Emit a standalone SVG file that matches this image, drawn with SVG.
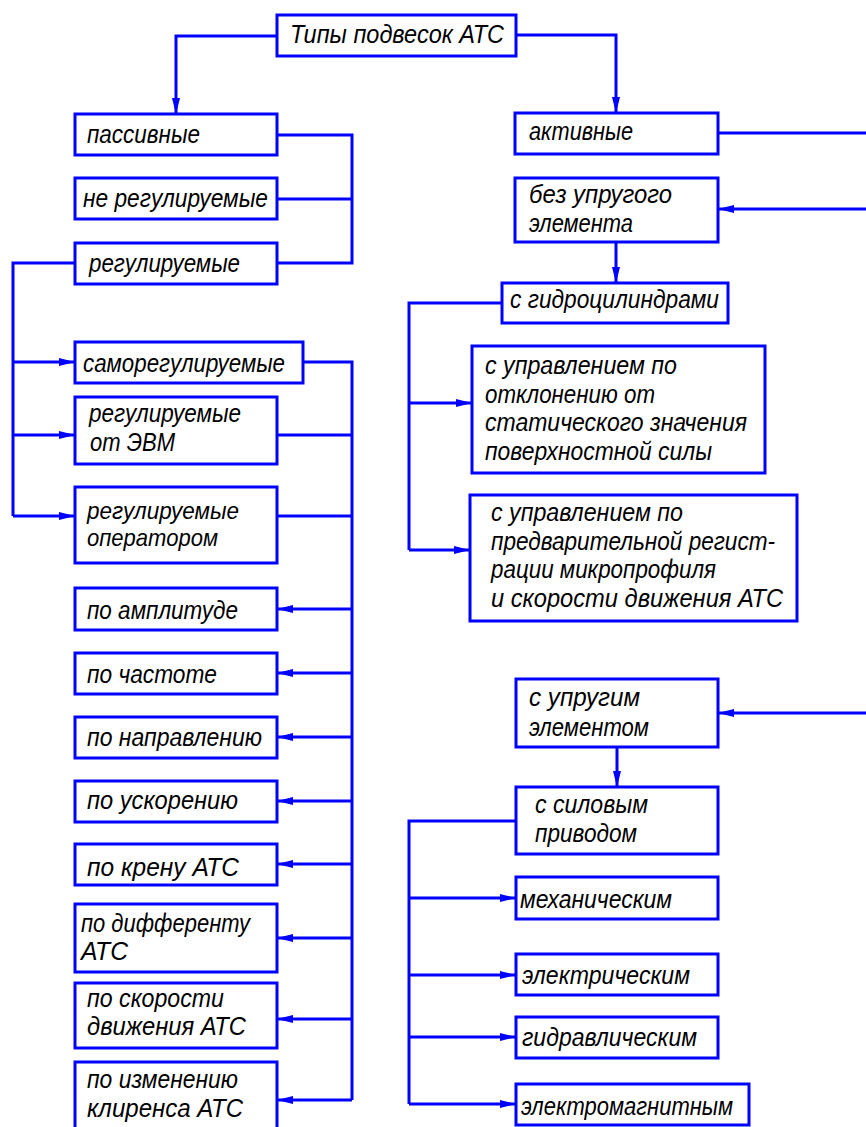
<svg xmlns="http://www.w3.org/2000/svg" width="866" height="1127" viewBox="0 0 866 1127">
<defs>
<style>
.b{fill:#fff;stroke:#0000ff;stroke-width:3}
.c{fill:none;stroke:#0000ff;stroke-width:3}
.a{fill:none;stroke:#0000ff;stroke-width:3;marker-end:url(#ah)}
text{font-family:"Liberation Sans",Arial,sans-serif;font-style:italic;font-size:26px;fill:#000}
.s{font-size:24px}
</style>
<marker id="ah" markerUnits="userSpaceOnUse" markerWidth="17" markerHeight="9" refX="16" refY="4.5" orient="auto">
<path d="M0,0.5 L16,4.5 L0,8.5 z" fill="#0000ff"/>
</marker>
</defs>
<rect width="866" height="1127" fill="#fff"/>
<g id="connectors">
<path class="a" d="M277,36 H176 V114"/>
<path class="a" d="M516,35 H616 V113"/>
<path class="c" d="M277,135 H352 V263 H277 M277,199 H352"/>
<path class="c" d="M75,263 H13 V516"/>
<path class="a" d="M13,362 H75"/>
<path class="a" d="M13,435 H75"/>
<path class="a" d="M13,516 H75"/>
<path class="c" d="M303,362 H352 V1100 M277,435 H352 M277,516 H352"/>
<path class="a" d="M352,609 H277"/>
<path class="a" d="M352,673 H277"/>
<path class="a" d="M352,737 H277"/>
<path class="a" d="M352,801 H277"/>
<path class="a" d="M352,864 H277"/>
<path class="a" d="M352,938 H277"/>
<path class="a" d="M352,1019 H277"/>
<path class="a" d="M352,1100 H277"/>
<path class="c" d="M718,133 H866"/>
<path class="a" d="M866,209 H718"/>
<path class="a" d="M616,242 V283"/>
<path class="c" d="M502,303 H409 V550"/>
<path class="a" d="M409,403 H472"/>
<path class="a" d="M409,550 H470"/>
<path class="a" d="M866,713 H718"/>
<path class="a" d="M617,747 V787"/>
<path class="c" d="M516,821 H409 V1104"/>
<path class="a" d="M409,898 H516"/>
<path class="a" d="M409,975 H516"/>
<path class="a" d="M409,1037 H516"/>
<path class="a" d="M409,1104 H516"/>
</g>
<g id="n-root"><rect class="b" x="277" y="15" width="239" height="41"/><text x="290" y="43" textLength="214" lengthAdjust="spacingAndGlyphs">Типы подвесок АТС</text></g>
<g id="n-passive"><rect class="b" x="75" y="114" width="202" height="41"/><text x="87" y="143" textLength="113" lengthAdjust="spacingAndGlyphs">пассивные</text></g>
<g id="n-nonreg"><rect class="b" x="75" y="178" width="202" height="41"/><text x="83" y="207" textLength="185" lengthAdjust="spacingAndGlyphs">не регулируемые</text></g>
<g id="n-reg"><rect class="b" x="75" y="243" width="202" height="41"/><text x="89" y="272" textLength="151" lengthAdjust="spacingAndGlyphs">регулируемые</text></g>
<g id="n-selfreg"><rect class="b" x="75" y="342" width="228" height="41"/><text x="83" y="372" textLength="202" lengthAdjust="spacingAndGlyphs">саморегулируемые</text></g>
<g id="n-evm"><rect class="b" x="75" y="397" width="202" height="67"/><text x="89" y="422" textLength="152" lengthAdjust="spacingAndGlyphs">регулируемые</text><text x="90" y="451" textLength="85" lengthAdjust="spacingAndGlyphs">от ЭВМ</text></g>
<g id="n-operator"><rect class="b" x="75" y="487" width="202" height="76"/><text class="s" x="87" y="519" textLength="152" lengthAdjust="spacingAndGlyphs">регулируемые</text><text class="s" x="87" y="546" textLength="131" lengthAdjust="spacingAndGlyphs">оператором</text></g>
<g id="n-ampl"><rect class="b" x="75" y="588" width="202" height="42"/><text x="87" y="619" textLength="151" lengthAdjust="spacingAndGlyphs">по амплитуде</text></g>
<g id="n-freq"><rect class="b" x="75" y="653" width="202" height="41"/><text x="87" y="683" textLength="130" lengthAdjust="spacingAndGlyphs">по частоте</text></g>
<g id="n-dir"><rect class="b" x="75" y="717" width="202" height="41"/><text x="87" y="746" textLength="175" lengthAdjust="spacingAndGlyphs">по направлению</text></g>
<g id="n-acc"><rect class="b" x="75" y="781" width="202" height="41"/><text x="87" y="809" textLength="151" lengthAdjust="spacingAndGlyphs">по ускорению</text></g>
<g id="n-roll"><rect class="b" x="75" y="844" width="202" height="41"/><text x="87" y="876" textLength="152" lengthAdjust="spacingAndGlyphs">по крену АТС</text></g>
<g id="n-pitch"><rect class="b" x="75" y="904" width="202" height="68"/><text x="81" y="932" textLength="169" lengthAdjust="spacingAndGlyphs">по дифференту</text><text x="81" y="960" textLength="47" lengthAdjust="spacingAndGlyphs">АТС</text></g>
<g id="n-speed"><rect class="b" x="75" y="983" width="202" height="65"/><text x="87" y="1007" textLength="137" lengthAdjust="spacingAndGlyphs">по скорости</text><text x="87" y="1035" textLength="159" lengthAdjust="spacingAndGlyphs">движения АТС</text></g>
<g id="n-clear"><rect class="b" x="75" y="1062" width="202" height="70"/><text x="87" y="1088" textLength="151" lengthAdjust="spacingAndGlyphs">по изменению</text><text x="87" y="1117" textLength="156" lengthAdjust="spacingAndGlyphs">клиренса АТС</text></g>
<g id="n-active"><rect class="b" x="515" y="113" width="203" height="41"/><text x="529" y="140" textLength="104" lengthAdjust="spacingAndGlyphs">активные</text></g>
<g id="n-noelastic"><rect class="b" x="515" y="178" width="203" height="64"/><text x="529" y="203" textLength="143" lengthAdjust="spacingAndGlyphs">без упругого</text><text x="529" y="232" textLength="104" lengthAdjust="spacingAndGlyphs">элемента</text></g>
<g id="n-hydrocyl"><rect class="b" x="502" y="283" width="226" height="40"/><text x="510" y="308" textLength="209" lengthAdjust="spacingAndGlyphs">с гидроцилиндрами</text></g>
<g id="n-deviation"><rect class="b" x="472" y="346" width="293" height="127"/><text x="485" y="374" textLength="192" lengthAdjust="spacingAndGlyphs">с управлением по</text><text x="485" y="403" textLength="170" lengthAdjust="spacingAndGlyphs">отклонению от</text><text x="485" y="431" textLength="262" lengthAdjust="spacingAndGlyphs">статического значения</text><text x="485" y="460" textLength="227" lengthAdjust="spacingAndGlyphs">поверхностной силы</text></g>
<g id="n-preview"><rect class="b" x="470" y="495" width="327" height="126"/><text x="491" y="521" textLength="192" lengthAdjust="spacingAndGlyphs">с управлением по</text><text x="491" y="550" textLength="284" lengthAdjust="spacingAndGlyphs">предварительной регист-</text><text x="491" y="578" textLength="225" lengthAdjust="spacingAndGlyphs">рации микропрофиля</text><text x="491" y="607" textLength="292" lengthAdjust="spacingAndGlyphs">и скорости движения АТС</text></g>
<g id="n-elastic"><rect class="b" x="516" y="679" width="202" height="68"/><text x="529" y="706" textLength="111" lengthAdjust="spacingAndGlyphs">с упругим</text><text x="529" y="736" textLength="120" lengthAdjust="spacingAndGlyphs">элементом</text></g>
<g id="n-drive"><rect class="b" x="516" y="787" width="202" height="67"/><text x="535" y="813" textLength="113" lengthAdjust="spacingAndGlyphs">с силовым</text><text x="535" y="842" textLength="102" lengthAdjust="spacingAndGlyphs">приводом</text></g>
<g id="n-mech"><rect class="b" x="516" y="877" width="202" height="42"/><text x="520" y="908" textLength="152" lengthAdjust="spacingAndGlyphs">механическим</text></g>
<g id="n-elec"><rect class="b" x="516" y="954" width="202" height="41"/><text x="522" y="984" textLength="168" lengthAdjust="spacingAndGlyphs">электрическим</text></g>
<g id="n-hydr"><rect class="b" x="516" y="1017" width="202" height="41"/><text x="522" y="1046" textLength="175" lengthAdjust="spacingAndGlyphs">гидравлическим</text></g>
<g id="n-emag"><rect class="b" x="516" y="1084" width="233" height="41"/><text x="521" y="1115" textLength="212" lengthAdjust="spacingAndGlyphs">электромагнитным</text></g>
</svg>
